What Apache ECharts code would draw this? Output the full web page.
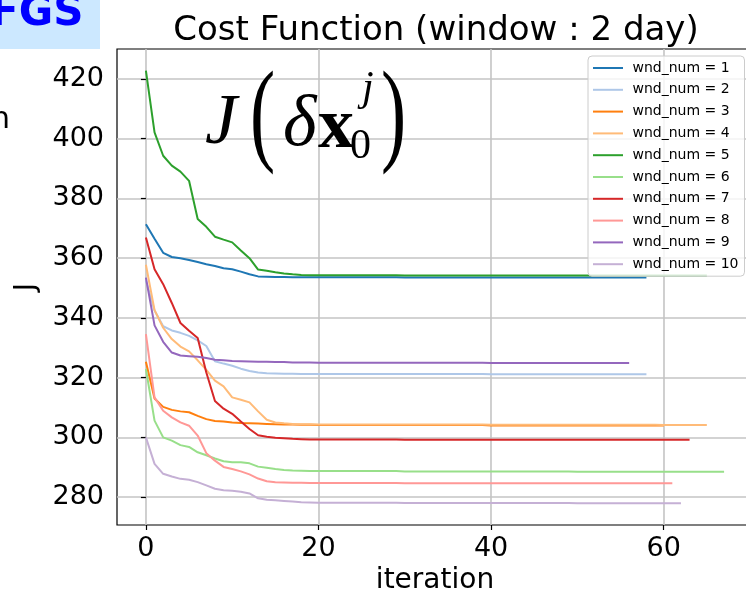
<!DOCTYPE html>
<html><head><meta charset="utf-8">
<script src="https://cdn.jsdelivr.net/npm/echarts@6/dist/echarts.min.js"></script>
<style>html,body{margin:0;padding:0;background:#fff}#c{width:746px;height:594px}</style>
</head><body><div id="c"></div>
<script>
const seriesNames = ['wnd_num = 1','wnd_num = 2','wnd_num = 3','wnd_num = 4','wnd_num = 5','wnd_num = 6','wnd_num = 7','wnd_num = 8','wnd_num = 9','wnd_num = 10'];
const xTicks = [0, 20, 40, 60];
const yTicks = [280, 300, 320, 340, 360, 380, 400, 420];

const wnd1 = [371.4,366.5,361.8,360.4,360.0,359.4,358.7,358.0,357.4,356.6,
  356.3,355.5,354.6,353.9,353.8,353.7,353.7,353.6,353.6,353.6,
  353.6,353.6,353.6,353.6,353.6,353.6,353.6,353.6,353.6,353.6,
  353.5,353.5,353.5,353.5,353.5,353.5,353.5,353.5,353.5,353.5,
  353.5,353.5,353.5,353.5,353.5,353.5,353.5,353.5,353.5,353.5,
  353.5,353.5,353.5,353.5,353.5,353.5,353.5,353.5,353.5];
const wnd2 = [352.5,342.5,337.2,335.8,335.0,334.0,332.5,330.6,325.5,324.7,
  324.0,323.0,322.2,321.7,321.5,321.4,321.3,321.3,321.2,321.2,
  321.2,321.2,321.2,321.2,321.2,321.2,321.2,321.2,321.2,321.2,
  321.2,321.2,321.2,321.2,321.2,321.2,321.2,321.2,321.2,321.2,
  321.1,321.1,321.1,321.1,321.1,321.1,321.1,321.1,321.1,321.1,
  321.1,321.1,321.1,321.1,321.1,321.1,321.1,321.1,321.1];
const wnd3 = [325.3,313.0,310.2,309.2,308.7,308.4,307.2,306.1,305.5,305.3,
  305.0,304.8,304.7,304.6,304.5,304.4,304.3,304.3,304.2,304.2,
  304.1,304.1,304.1,304.1,304.1,304.1,304.1,304.1,304.1,304.1,
  304.1,304.1,304.1,304.1,304.1,304.1,304.1,304.1,304.1,304.1,
  304.0,304.0,304.0,304.0,304.0,304.0,304.0,304.0,304.0,304.0,
  304.0,304.0,304.0,304.0,304.0,304.0,304.0,304.0,304.0,304.0,
  304.0];
const wnd4 = [357.8,342.6,336.7,332.9,330.4,328.8,325.8,322.6,319.0,317.1,
  313.4,312.6,311.7,308.7,305.9,305.0,304.7,304.5,304.4,304.4,
  304.3,304.3,304.3,304.3,304.3,304.3,304.3,304.3,304.3,304.3,
  304.3,304.3,304.3,304.3,304.3,304.3,304.3,304.3,304.3,304.3,
  304.2,304.2,304.2,304.2,304.2,304.2,304.2,304.2,304.2,304.2,
  304.2,304.2,304.2,304.2,304.2,304.2,304.2,304.2,304.2,304.2,
  304.1,304.1,304.1,304.1,304.1,304.1];
const wnd5 = [422.8,402.1,394.3,391.0,389.0,385.9,373.1,370.5,367.2,366.2,
  365.3,362.6,360.0,356.2,355.8,355.3,354.9,354.6,354.4,354.3,
  354.3,354.3,354.3,354.3,354.3,354.3,354.3,354.3,354.3,354.3,
  354.2,354.2,354.2,354.2,354.2,354.2,354.2,354.2,354.2,354.2,
  354.2,354.2,354.2,354.2,354.2,354.2,354.2,354.2,354.2,354.2,
  354.2,354.2,354.2,354.2,354.2,354.2,354.2,354.2,354.2,354.2,
  354.2,354.2,354.2,354.2,354.2,354.2];
const wnd6 = [322.9,305.6,300.0,298.9,297.4,296.8,295.0,294.0,292.9,292.0,
  291.7,291.7,291.3,290.2,289.8,289.4,289.1,288.9,288.8,288.7,
  288.7,288.7,288.7,288.7,288.7,288.7,288.7,288.7,288.7,288.7,
  288.6,288.6,288.6,288.6,288.6,288.6,288.6,288.6,288.6,288.6,
  288.6,288.6,288.6,288.6,288.6,288.6,288.6,288.6,288.6,288.6,
  288.5,288.5,288.5,288.5,288.5,288.5,288.5,288.5,288.5,288.5,
  288.5,288.5,288.5,288.5,288.5,288.5,288.5,288.5];
const wnd7 = [366.9,356.3,351.3,345.0,338.3,335.7,333.3,321.7,312.2,309.6,
  307.9,305.3,302.8,300.7,300.2,299.9,299.7,299.5,299.4,299.3,
  299.3,299.3,299.3,299.3,299.3,299.3,299.3,299.3,299.3,299.3,
  299.2,299.2,299.2,299.2,299.2,299.2,299.2,299.2,299.2,299.2,
  299.2,299.2,299.2,299.2,299.2,299.2,299.2,299.2,299.2,299.2,
  299.2,299.2,299.2,299.2,299.2,299.2,299.2,299.2,299.2,299.2,
  299.2,299.2,299.2,299.2];
const wnd8 = [334.6,313.4,308.9,306.7,305.0,303.9,300.6,294.7,292.2,290.1,
  289.4,288.6,287.6,286.2,285.3,285.0,284.9,284.8,284.8,284.7,
  284.7,284.7,284.7,284.7,284.7,284.7,284.7,284.7,284.7,284.7,
  284.6,284.6,284.6,284.6,284.6,284.6,284.6,284.6,284.6,284.6,
  284.6,284.6,284.6,284.6,284.6,284.6,284.6,284.6,284.6,284.6,
  284.6,284.6,284.6,284.6,284.6,284.6,284.6,284.6,284.6,284.6,
  284.6,284.6];
const wnd9 = [353.5,337.5,332.0,328.4,327.4,327.2,327.0,326.6,326.0,325.8,
  325.6,325.5,325.4,325.3,325.3,325.2,325.2,325.1,325.1,325.1,
  325.0,325.0,325.0,325.0,325.0,325.0,325.0,325.0,325.0,325.0,
  325.0,325.0,325.0,325.0,325.0,325.0,325.0,325.0,325.0,325.0,
  324.9,324.9,324.9,324.9,324.9,324.9,324.9,324.9,324.9,324.9,
  324.9,324.9,324.9,324.9,324.9,324.9,324.9];
const wnd10 = [300.0,291.1,287.8,286.9,286.1,285.8,285.0,283.9,282.8,282.3,
  282.1,281.8,281.2,279.6,279.1,278.9,278.7,278.5,278.3,278.2,
  278.1,278.1,278.1,278.1,278.1,278.1,278.1,278.1,278.1,278.1,
  278.0,278.0,278.0,278.0,278.0,278.0,278.0,278.0,278.0,278.0,
  278.0,278.0,278.0,278.0,278.0,278.0,278.0,278.0,278.0,278.0,
  277.9,277.9,277.9,277.9,277.9,277.9,277.9,277.9,277.9,277.9,
  277.9,277.9,277.9];

const allData = [wnd1, wnd2, wnd3, wnd4, wnd5, wnd6, wnd7, wnd8, wnd9, wnd10];
const colors = ['#1f77b4','#aec7e8','#ff7f0e','#ffbb78','#2ca02c','#98df8a','#d62728','#ff9896','#9467bd','#c5b0d5'];
const FONT = '"DejaVu Sans", sans-serif';
const SERIF = '"Liberation Serif", "DejaVu Serif", serif';

const chart = echarts.init(document.getElementById('c'), null, {renderer: 'canvas'});
chart.setOption({
  animation: false,
  backgroundColor: '#ffffff',
  title: {
    text: 'Cost Function (window : 2 day)',
    left: 431, top: 9, textAlign: 'center',
    textStyle: {fontFamily: FONT, fontSize: 34, fontWeight: 'normal', color: '#000'}
  },
  grid: {
    left: 117, top: 49, right: -7, bottom: 69,
    containLabel: false, outerBoundsMode: 'none',
    show: true, borderColor: '#000', borderWidth: 1.2, backgroundColor: 'transparent'
  },
  legend: {
    data: seriesNames,
    orient: 'vertical',
    left: 588, top: 56,
    icon: 'rect', itemWidth: 30, itemHeight: 2, itemGap: 7.8,
    padding: [5, 6, 5, 5],
    formatter: function (n) { return ' ' + n; },
    textStyle: {fontFamily: FONT, fontSize: 14, color: '#000'},
    backgroundColor: 'rgba(255,255,255,0.8)',
    borderColor: '#cccccc', borderWidth: 1, borderRadius: 4
  },
  xAxis: {
    type: 'value', min: -3.35, max: 70.35,
    name: 'iteration', nameLocation: 'middle', nameGap: 41,
    nameTextStyle: {fontFamily: FONT, fontSize: 28, color: '#000'},
    axisLine: {show: false},
    axisTick: {show: true, length: 5, customValues: xTicks, lineStyle: {color: '#000', width: 1.2}},
    axisLabel: {customValues: xTicks, margin: 10, fontFamily: FONT, fontSize: 27, color: '#000'},
    splitLine: {show: true, lineStyle: {color: '#c4c4c4', width: 1.6}}
  },
  yAxis: {
    type: 'value', min: 270.65, max: 430.05,
    name: 'J', nameLocation: 'middle', nameGap: 76,
    nameTextStyle: {fontFamily: FONT, fontSize: 28, color: '#000'},
    axisLine: {show: false},
    axisTick: {show: true, length: 5, customValues: yTicks, lineStyle: {color: '#000', width: 1.2}},
    axisLabel: {customValues: yTicks, margin: 13, fontFamily: FONT, fontSize: 27, color: '#000'},
    splitLine: {show: true, lineStyle: {color: '#c4c4c4', width: 1.6}}
  },
  series: allData.map(function (arr, k) {
    return {
      name: seriesNames[k], type: 'line', showSymbol: false, symbol: 'none',
      data: arr.map(function (v, i) { return [i, v]; }),
      lineStyle: {color: colors[k], width: 2},
      itemStyle: {color: colors[k]},
      z: 2 + k * 0.01
    };
  }),
  graphic: [
    {type: 'rect', shape: {x: 0, y: 0, width: 100, height: 49}, style: {fill: '#cce8ff'}, z: 10},
    {type: 'text', z: 11, style: {text: 'FGS', x: -10, y: 14, font: 'bold 42px "DejaVu Sans"', fill: '#0000ff', textVerticalAlign: 'middle', verticalAlign: 'middle'}},
    {type: 'text', z: 11, style: {text: 'n', x: -9, y: 120, font: '30px "DejaVu Sans"', fill: '#000', textVerticalAlign: 'middle', verticalAlign: 'middle'}},
    {type: 'text', z: 11, style: {text: 'J', x: 205, y: 124, font: 'italic 72px ' + SERIF, fill: '#000', textVerticalAlign: 'middle', verticalAlign: 'middle'}},
    {type: 'text', z: 11, x: 250, y: 120, scaleX: 0.9, scaleY: 1.35, style: {text: '(', x: 0, y: 0, font: '84px ' + SERIF, fill: '#000', textVerticalAlign: 'middle', verticalAlign: 'middle'}},
    {type: 'text', z: 11, style: {text: 'δ', x: 283, y: 126, font: 'italic 72px ' + SERIF, fill: '#000', textVerticalAlign: 'middle', verticalAlign: 'middle'}},
    {type: 'text', z: 11, style: {text: 'x', x: 318, y: 128, font: 'bold 72px ' + SERIF, fill: '#000', textVerticalAlign: 'middle', verticalAlign: 'middle'}},
    {type: 'text', z: 11, style: {text: 'j', x: 362, y: 89, font: 'italic 42px ' + SERIF, fill: '#000', textVerticalAlign: 'middle', verticalAlign: 'middle'}},
    {type: 'text', z: 11, style: {text: '0', x: 350, y: 147, font: '42px ' + SERIF, fill: '#000', textVerticalAlign: 'middle', verticalAlign: 'middle'}},
    {type: 'text', z: 11, x: 381, y: 120, scaleX: 0.9, scaleY: 1.35, style: {text: ')', x: 0, y: 0, font: '84px ' + SERIF, fill: '#000', textVerticalAlign: 'middle', verticalAlign: 'middle'}}
  ]
});
</script>
</body></html>
